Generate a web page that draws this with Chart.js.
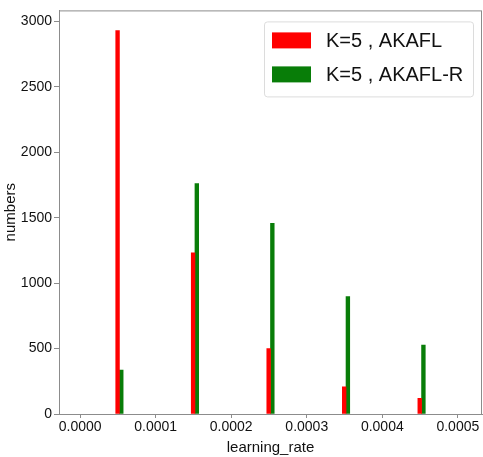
<!DOCTYPE html>
<html>
<head>
<meta charset="utf-8">
<script src="https://cdn.jsdelivr.net/npm/chart.js@4/dist/chart.umd.min.js"></script>
<style>
  html, body { margin: 0; padding: 0; background: #fff; }
  #wrap { position: relative; width: 483px; height: 457px; }
</style>
</head>
<body>
<div id="wrap"><canvas id="histChart"></canvas></div>
<script>
// bin centres (learning rate) and counts per series
const binCenters = [0.000052, 0.000152, 0.000252, 0.000352, 0.000452];
const akaflCounts = [2930, 1232, 500, 207, 120];
const akaflRCounts = [335, 1762, 1457, 898, 527];
const seriesLabels = ["K=5 , AKAFL", "K=5 , AKAFL-R"];
const xTicks = [0, 0.0001, 0.0002, 0.0003, 0.0004, 0.0005];
const yTicks = [0, 500, 1000, 1500, 2000, 2500, 3000];

const tickFont = { family: "'Liberation Sans', Arial, sans-serif", size: 14 };
const axisColor = "#8c8c8c";

// matplotlib style frame around the plot area
const framePlugin = {
    id: "frame",
    afterDraw(chart) {
        const a = chart.chartArea;
        const ctx = chart.ctx;
        ctx.save();
        ctx.strokeStyle = axisColor;
        ctx.lineWidth = 1;
        ctx.strokeRect(a.left + 0.5, a.top + 0.5, a.right - a.left - 1, a.bottom - a.top);
        ctx.restore();
    }
};

// legend box in the upper right corner of the plot
const insideLegend = {
    id: "insideLegend",
    afterDraw(chart) {
        const ctx = chart.ctx;
        const a = chart.chartArea;
        const boxW = 209, boxH = 75;
        const x = a.right - 9 - boxW, y = a.top + 11;
        ctx.save();
        ctx.fillStyle = "rgba(255,255,255,0.85)";
        ctx.strokeStyle = "#dcdcdc";
        ctx.lineWidth = 1;
        ctx.beginPath();
        ctx.roundRect(x + 0.5, y + 0.5, boxW, boxH, 3);
        ctx.fill();
        ctx.stroke();
        ctx.font = "20px 'Liberation Sans', Arial, sans-serif";
        ctx.textBaseline = "middle";
        chart.data.datasets.forEach((ds, i) => {
            const rowY = y + 19 + i * 34;
            ctx.fillStyle = ds.backgroundColor;
            ctx.fillRect(x + 8, rowY - 8, 39, 16);
            ctx.fillStyle = "#111";
            ctx.fillText(ds.label, x + 62, rowY + 1);
        });
        ctx.restore();
    }
};

const toPoints = (vals) => vals.map((v, i) => ({ x: binCenters[i], y: v }));

const ctx = document.getElementById("histChart").getContext("2d");
new Chart(ctx, {
    type: "bar",
    data: {
        datasets: [{
            label: seriesLabels[0],
            data: toPoints(akaflCounts),
            backgroundColor: "#ff0000"
        }, {
            label: seriesLabels[1],
            data: toPoints(akaflRCounts),
            backgroundColor: "#087d08"
        }]
    },
    options: {
        responsive: true,
        maintainAspectRatio: false,
        animation: false,
        barThickness: 3.7,
        layout: { padding: { top: 9, right: 1, left: 0, bottom: 0 } },
        plugins: {
            legend: { display: false },
            tooltip: { enabled: false }
        },
        scales: {
            x: {
                type: "linear",
                min: -0.000028,
                max: 0.000532,
                offset: false,
                afterBuildTicks: (scale) => { scale.ticks = xTicks.map(v => ({ value: v })); },
                afterFit: (scale) => { scale.height = 43; },
                ticks: {
                    font: tickFont,
                    color: "#111",
                    padding: 1,
                    maxRotation: 0,
                    callback: (v) => Number(v).toFixed(4)
                },
                grid: { offset: false, drawOnChartArea: false, tickLength: 4, color: axisColor },
                border: { color: axisColor },
                title: {
                    display: true,
                    text: "learning_rate",
                    font: { family: "'Liberation Sans', Arial, sans-serif", size: 15 },
                    color: "#111",
                    padding: { top: 0, bottom: 0 }
                }
            },
            y: {
                min: 0,
                max: 3085,
                afterBuildTicks: (scale) => { scale.ticks = yTicks.map(v => ({ value: v })); },
                afterFit: (scale) => { scale.width = 59; },
                ticks: { font: tickFont, color: "#111", padding: 2, callback: (v) => String(v) },
                grid: { drawOnChartArea: false, tickLength: 5, color: axisColor },
                border: { color: axisColor },
                title: {
                    display: true,
                    text: "numbers",
                    font: { family: "'Liberation Sans', Arial, sans-serif", size: 15 },
                    color: "#111",
                    padding: { top: 2, bottom: 0 }
                }
            }
        }
    },
    plugins: [framePlugin, insideLegend]
});
</script>
</body>
</html>
